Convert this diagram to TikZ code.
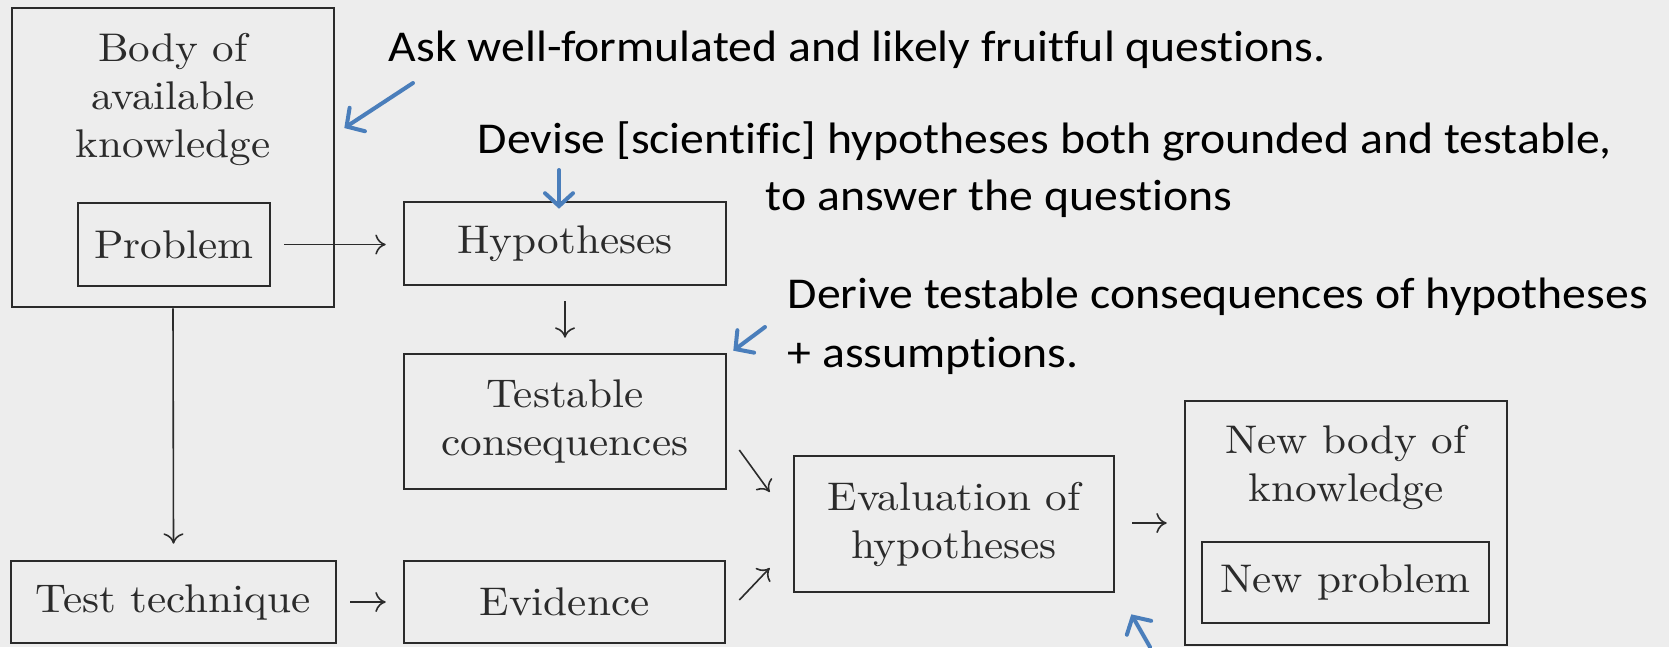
\documentclass[tikz,border=0pt]{standalone}
\usepackage{fontspec}
\newfontfamily\calfont{Carlito}[FakeStretch=1.085,Ligatures=NoCommon]
\newfontfamily\bookfont{Latin Modern Roman}[FakeStretch=1.08]
\usetikzlibrary{arrows.meta,calc}
\definecolor{bg}{HTML}{EDEDED}
\definecolor{ink}{HTML}{2B2B2B}
\definecolor{annblue}{HTML}{4A7EBB}
\begin{document}
\begin{tikzpicture}[x=0.25pt,y=-0.25pt,
  box/.style={draw=ink,line width=0.65pt,inner sep=0pt,text=ink,align=center,font=\bookfont\fontsize{10}{12}\selectfont},
  booktext/.style={text=ink,inner sep=0pt,align=center,font=\bookfont\fontsize{10}{12}\selectfont},
  arr/.style={draw=ink,line width=0.4pt,-{To[length=2.6pt,width=5pt]}},
  note/.style={inner sep=0pt,anchor=base west,font=\calfont\fontsize{11}{13}\selectfont,text=black},
  notearrow/.style={draw=annblue,line width=1pt,line cap=round,-{Straight Barb[length=3.2pt,width=7pt,line cap=round]}}]
\fill[bg] (0,0) rectangle (1669,647);
\useasboundingbox (0,0) rectangle (1669,647);
% book diagram
\node[box,minimum width=80.5pt,minimum height=74.75pt] (body) at (173,157.5) {};
\node[booktext] (bodytext) at (173,100) {Body of\\available\\knowledge};
\node[box,minimum width=48pt,minimum height=20.75pt] (problem) at (174,244.5) {Problem};
\node[box,minimum width=80.5pt,minimum height=20.75pt] (hyp) at (565,243.5) {Hypotheses};
\node[box,minimum width=80.5pt,minimum height=33.75pt] (testable) at (565,421.5) {Testable\\consequences};
\node[box,minimum width=81.25pt,minimum height=20.5pt] (testtech) at (173.5,602) {Test technique};
\node[box,minimum width=80.25pt,minimum height=20.5pt] (evidence) at (564.5,602) {Evidence};
\node[box,minimum width=80pt,minimum height=34pt] (eval) at (954,524) {Evaluation of\\hypotheses};
\node[box,minimum width=80.5pt,minimum height=61pt] (newbody) at (1346,523) {};
\node[booktext] (newbodytext) at (1346,467.5) {New body of\\knowledge};
\node[box,minimum width=71.75pt,minimum height=20.25pt] (newproblem) at (1345.5,582.5) {New problem};
% book arrows
\draw[arr] ($(problem.east)+(13,0)$) -- ($(hyp.west)+(-17,1)$);
\draw[arr] ($(hyp.south)+(0,15)$) -- ($(testable.north)+(0,-15)$);
\draw[arr] (body.south) -- ($(testtech.north)+(0,-16)$);
\draw[arr] ($(testtech.east)+(13,0)$) -- ($(evidence.west)+(-17,0)$);
\draw[arr] ($(testable.east)+(12,28.5)$) -- ($(eval.west)+(-23,-32)$);
\draw[arr] ($(evidence.east)+(13,-2)$) -- ($(eval.west)+(-23,44)$);
\draw[arr] ($(eval.east)+(17,-1)$) -- ($(newbody.west)+(-17,0)$);
% annotations
\node[note] (ask) at (388,61) {Ask well-formulated and likely fruitful questions.};
\node[note] (devise) at (477,153) {Devise [scientific] hypotheses both grounded and testable,};
\node[note] (devise2) at (765,210) {to answer the questions};
\node[note] (derive) at (787,308) {Derive testable consequences of hypotheses};
\node[note] (derive2) at (787,367) {+ assumptions.};
% annotation arrows
\draw[notearrow] ($(ask.base west)+(25,22)$) -- ($(body.east)+(9,-29.5)$);
\draw[notearrow] ($(devise.base west)+(82,17)$) -- ($(hyp.north)+(-6,8)$);
\draw[notearrow] ($(derive.base west)+(-22,19)$) -- ($(testable.north east)+(6,-2)$);
\coordinate (btail) at (1150,647);
\draw[notearrow] (btail) -- ($(eval.south east)+(16,21)$);
\end{tikzpicture}
\end{document}
